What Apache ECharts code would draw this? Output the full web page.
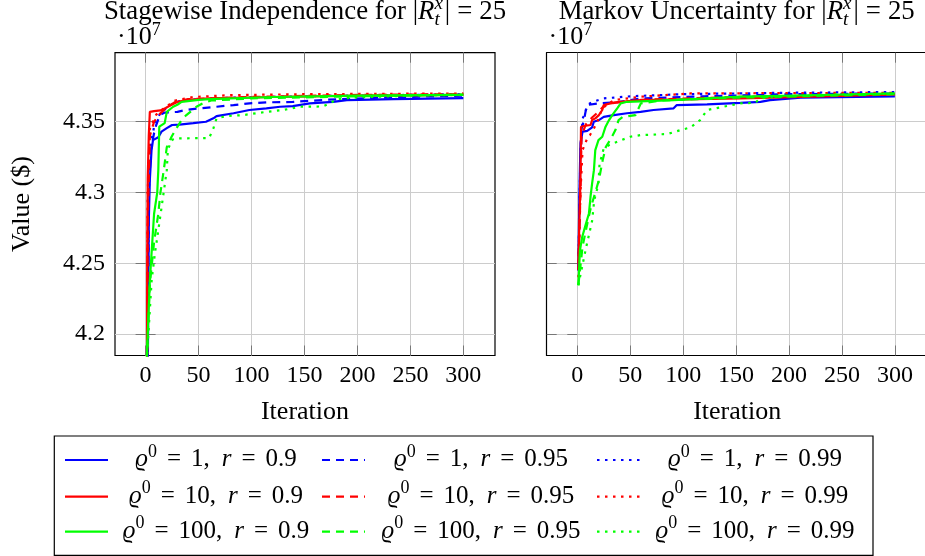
<!DOCTYPE html>
<html><head><meta charset="utf-8">
<script src="https://cdn.jsdelivr.net/npm/echarts@6/dist/echarts.min.js"></script>
<style>html,body{margin:0;padding:0;background:#fff;overflow:hidden}#c{width:945px;height:556px}</style>
</head><body><div id="c"></div>
<script>
// ---------- data (values in units of 10^7 $) ----------
const xTicks = [0, 50, 100, 150, 200, 250, 300];
const yTicks = [4.2, 4.25, 4.3, 4.35];
const rhoValues = ['1', '10', '100'];
const rValues = ['0.9', '0.95', '0.99'];
const titleLeftText = 'Stagewise Independence for ';
const titleRightText = 'Markov Uncertainty for ';
const xName = 'Iteration';
const yName = 'Value ($)';

// Stagewise independence
const si_rho1_r90 = [[1,4.05],[3,4.28],[4,4.309],[5.6,4.33],[7,4.337],[12,4.339],[15,4.343],[20,4.3455],[25,4.3477],[32,4.348],[45,4.349],[57,4.35],[64,4.3524],[67,4.354],[83,4.356],[98,4.3583],[114,4.3595],[127,4.3606],[139,4.3611],[155,4.363],[177,4.3641],[190,4.3653],[234,4.366],[300,4.3667]];
const si_rho1_r95 = [[1,4.05],[3,4.30],[5,4.33],[8,4.342],[10,4.3477],[13.5,4.3547],[18,4.3565],[30,4.357],[38,4.3583],[51,4.3595],[67,4.3606],[83,4.3618],[98,4.363],[114,4.3637],[139,4.364],[170,4.3655],[220,4.367],[300,4.3685]];
const si_rho1_r99 = [[1,4.05],[3,4.30],[5,4.335],[9,4.35],[14,4.356],[20,4.36],[28,4.364],[40,4.3655],[80,4.367],[150,4.368],[300,4.3695]];
const si_rho10_r90 = [[1,4.05],[1.5,4.25],[2,4.31],[3,4.34],[4,4.357],[8,4.3575],[14,4.358],[19,4.3597],[24,4.3618],[30,4.364],[40,4.3655],[60,4.3665],[120,4.3675],[200,4.3685],[300,4.369]];
const si_rho10_r95 = [[1,4.05],[2,4.28],[4,4.34],[8,4.35],[14,4.356],[20,4.36],[28,4.364],[40,4.366],[100,4.3675],[200,4.369],[300,4.3695]];
const si_rho10_r99 = [[1,4.05],[2,4.30],[4,4.345],[10,4.355],[18,4.36],[28,4.365],[45,4.3675],[80,4.3688],[150,4.3695],[300,4.370]];
const si_rho100_r90 = [[1,4.18],[4,4.238],[8,4.285],[9,4.29],[11,4.30],[12,4.316],[12.9,4.3465],[18,4.349],[20,4.357],[26,4.3606],[30,4.362],[34,4.364],[50,4.3655],[60,4.366],[120,4.3675],[200,4.3685],[300,4.369]];
const si_rho100_r95 = [[1,4.18],[4,4.235],[8,4.265],[12,4.285],[14,4.30],[17,4.315],[20,4.332],[24.5,4.3394],[29,4.3453],[34,4.3512],[38.5,4.3547],[48,4.3606],[54,4.363],[62,4.365],[100,4.3665],[200,4.368],[300,4.3692]];
const si_rho100_r99 = [[1,4.18],[5.7,4.238],[8.8,4.257],[12,4.2734],[16,4.2945],[20,4.3158],[21,4.33],[24.5,4.337],[28,4.3382],[60,4.3385],[64,4.3453],[67,4.3524],[76,4.354],[92,4.3547],[114,4.357],[130,4.3583],[146,4.3606],[167,4.3608],[174,4.363],[180,4.3658],[193,4.367],[250,4.3685],[300,4.369]];

// Markov uncertainty
const mu_rho1_r90 = [[1,4.245],[2,4.30],[3,4.335],[5,4.343],[9.4,4.3436],[14,4.346],[15.6,4.35],[20.4,4.3512],[25,4.3535],[34.5,4.3547],[47,4.356],[59.7,4.357],[72,4.3583],[91,4.3595],[94,4.3618],[122.6,4.3623],[154,4.3634],[173,4.3641],[182,4.3653],[211,4.367],[300,4.368]];
const mu_rho1_r95 = [[1,4.245],[3,4.32],[4,4.345],[6,4.35],[9,4.3618],[20,4.363],[40,4.364],[60,4.3665],[120,4.368],[200,4.3695],[300,4.370]];
const mu_rho1_r99 = [[1,4.245],[3,4.33],[5,4.352],[10,4.362],[14,4.364],[25,4.3665],[50,4.368],[100,4.3695],[200,4.3705],[300,4.371]];
const mu_rho10_r90 = [[1,4.25],[2,4.28],[3,4.31],[3.5,4.3465],[6.3,4.347],[12.5,4.3477],[14,4.3512],[17,4.3524],[20.4,4.3547],[23.6,4.3583],[25,4.3618],[31.4,4.363],[41,4.3641],[60,4.3653],[154,4.3665],[250,4.3682],[300,4.3694]];
const mu_rho10_r95 = [[1,4.245],[3,4.30],[4,4.34],[8,4.348],[14,4.353],[20,4.357],[26,4.3618],[35,4.3635],[60,4.3655],[150,4.3675],[300,4.3695]];
const mu_rho10_r99 = [[1,4.24],[3,4.30],[5,4.33],[10,4.3394],[12,4.3406],[15.7,4.3453],[19,4.35],[23.6,4.3595],[34.5,4.3653],[60,4.3677],[107,4.370],[300,4.3705]];
const mu_rho100_r90 = [[1,4.2345],[2.5,4.2592],[4.7,4.2687],[7.8,4.277],[11,4.2852],[12.5,4.297],[14,4.3064],[15.7,4.3158],[17,4.33],[20,4.337],[23.6,4.3394],[26.7,4.3465],[30,4.3512],[33,4.3547],[37.7,4.3595],[41,4.363],[47,4.3641],[91,4.3653],[154,4.3677],[230,4.3689],[300,4.370]];
const mu_rho100_r95 = [[1,4.2345],[5,4.262],[10,4.28],[13,4.29],[17,4.30],[20.4,4.3088],[24,4.3229],[27,4.3323],[31,4.337],[36,4.3441],[39,4.3512],[43,4.3535],[55,4.3547],[60,4.363],[80,4.365],[150,4.367],[300,4.3695]];
const mu_rho100_r99 = [[1,4.2345],[8,4.26],[14,4.28],[16,4.2945],[20,4.306],[21,4.32],[25,4.3312],[30,4.3335],[37.7,4.3359],[50,4.3394],[60,4.3406],[85,4.3413],[97.5,4.3441],[107,4.346],[116,4.3512],[122.6,4.3583],[138,4.3606],[154,4.363],[168,4.3634],[173,4.3665],[188,4.3675],[230,4.369],[300,4.3698]];

const siData = [si_rho1_r90, si_rho1_r95, si_rho1_r99, si_rho10_r90, si_rho10_r95, si_rho10_r99, si_rho100_r90, si_rho100_r95, si_rho100_r99];
const muData = [mu_rho1_r90, mu_rho1_r95, mu_rho1_r99, mu_rho10_r90, mu_rho10_r95, mu_rho10_r99, mu_rho100_r90, mu_rho100_r95, mu_rho100_r99];

// ---------- styles ----------
const SERIF = '"Liberation Serif", "DejaVu Serif", serif';
const FS = 24;            // tick numbers
const FT = 26.8;          // titles
const FN = 26;            // axis names
const FL = 25;            // legend
const COLORS = ['#0000ff', '#ff0000', '#00ff00'];
const DASHES = ['solid', [8, 6], [2.5, 5.5]];
const LW = 2.2;
const X_MIN = -28.9, X_MAX_L = 329.9, X_MAX_R = 331, Y_MIN = 4.1848, Y_MAX = 4.3988;
const GRIDS = [
  {left: 115, top: 52.7, width: 380, height: 302.8},
  {left: 546.7, top: 52.7, width: 381, height: 302.8}
];
const BORDER = {show: true, onZero: false, lineStyle: {color: '#000', width: 1.2}};

// ---------- math text helper ----------
const mctx = document.createElement('canvas').getContext('2d');
function tw(t, s, it) { mctx.font = (it ? 'italic ' : '') + s + 'px ' + SERIF; return mctx.measureText(t).width; }
function mathText(tokens, ax, baseline, anchor, base) {
  let cur = 0, prevStart = 0, prevW = 0; const placed = [];
  tokens.forEach(tk => {
    if (tk.g !== undefined) { cur += tk.g; return; }
    const s = tk.s || base, w = tw(tk.t, s, tk.i);
    let x0;
    if (tk.stack) { x0 = prevStart; cur = prevStart + Math.max(prevW, w); }
    else { x0 = cur; cur += w; prevStart = x0; prevW = w; }
    placed.push({tk, s, x0});
  });
  const left = anchor === 'center' ? ax - cur / 2 : ax;
  return placed.map(p => ({
    type: 'text', silent: true, z: 100,
    style: {
      text: p.tk.t, x: left + p.x0, y: baseline + (p.tk.dy || 0) - 0.34 * p.s,
      fontSize: p.s, fontFamily: SERIF, fontStyle: p.tk.i ? 'italic' : 'normal',
      fill: '#000', align: 'left', verticalAlign: 'middle', textAlign: 'left', textVerticalAlign: 'middle'
    }
  }));
}
function titleTokens(prefix) {
  return [{t: prefix + '|'}, {t: 'R', i: 1}, {t: 'x', i: 1, s: 19, dy: -11}, {t: 't', i: 1, s: 19, dy: 5, stack: 1}, {g: 2}, {t: '|'}, {g: 7}, {t: '='}, {g: 7}, {t: '25'}];
}
const expTokens = [{t: '\u00B710'}, {t: '7', s: 18, dy: -10}];

// ---------- legend ----------
const legendBox = {x: 54.3, y: 436, w: 818.7, h: 119.3};
const legendRowsY = [460, 496.7, 531.7];
const legendSampleX = [[65, 108], [322, 365], [597, 640]];
const legendTextCX = [216, 481, 755];
const graphics = [];
graphics.push({type: 'rect', silent: true, shape: {x: legendBox.x, y: legendBox.y, width: legendBox.w, height: legendBox.h}, style: {fill: '#fff', stroke: '#000', lineWidth: 1.2}});
const GA = 10, GB = 12;
rhoValues.forEach((rho, ri) => {
  rValues.forEach((r, ci) => {
    const y = legendRowsY[ri];
    const d = DASHES[ci];
    graphics.push({type: 'line', silent: true, z: 100, shape: {x1: legendSampleX[ci][0], y1: y, x2: legendSampleX[ci][1], y2: y},
      style: {stroke: COLORS[ri], lineWidth: LW, lineDash: d === 'solid' ? null : d}});
    mathText([{t: '\u03F1', i: 1}, {t: '0', s: 18, dy: -10}, {g: GA}, {t: '='}, {g: GA}, {t: rho + ','}, {g: GB}, {t: 'r', i: 1}, {g: GA}, {t: '='}, {g: GA}, {t: r}],
      legendTextCX[ci], y + 8, 'center', FL).forEach(g => graphics.push(g));
  });
});
mathText(titleTokens(titleLeftText), 305, 21, 'center', FT).forEach(g => graphics.push(g));
mathText(titleTokens(titleRightText), 736.7, 21, 'center', FT).forEach(g => graphics.push(g));
mathText(expTokens, 117, 46, 'left', 26).forEach(g => graphics.push(g));
mathText(expTokens, 548.5, 46, 'left', 26).forEach(g => graphics.push(g));

// ---------- axes ----------
const txt = {fontSize: FS, fontFamily: SERIF, color: '#000'};
const ntxt = {fontSize: FN, fontFamily: SERIF, color: '#000'};
const blank = () => '';
function xAxis(gi, pos) {
  const main = pos === 'bottom';
  return {type: 'value', gridIndex: gi, position: pos, min: X_MIN, max: gi === 0 ? X_MAX_L : X_MAX_R,
    axisLine: gi === 1 ? BORDER : {show: false},
    axisTick: {show: true, inside: true, length: 10, customValues: xTicks, lineStyle: {color: '#777', width: 1}},
    axisLabel: main ? {show: true, customValues: xTicks, margin: 8, ...txt} : {show: false, customValues: xTicks},
    splitLine: {show: main, lineStyle: {color: '#cccccc', width: 1}},
    name: main ? xName : '', nameLocation: 'middle', nameGap: 44, nameTextStyle: ntxt};
}
function yAxis(gi, pos, labels) {
  const main = pos === 'left';
  return {type: 'value', gridIndex: gi, position: pos, min: Y_MIN, max: Y_MAX,
    axisLine: (gi === 1 && main) ? BORDER : {show: false},
    axisTick: {show: true, inside: true, length: 10, customValues: yTicks, lineStyle: {color: '#777', width: 1}},
    axisLabel: labels ? {show: true, customValues: yTicks, margin: 10, ...txt}
      : (main ? {show: true, customValues: yTicks, formatter: blank, ...txt} : {show: false, customValues: yTicks}),
    splitLine: {show: main, lineStyle: {color: '#cccccc', width: 1}},
    name: labels ? yName : '', nameLocation: 'middle', nameRotate: 90, nameGap: 80, nameTextStyle: ntxt};
}

const series = [];
[siData, muData].forEach((set, gi) => {
  set.forEach((data, k) => {
    const ri = Math.floor(k / 3), ci = k % 3;
    series.push({
      type: 'line', name: '\u03F1\u2070 = ' + rhoValues[ri] + ', r = ' + rValues[ci],
      xAxisIndex: gi, yAxisIndex: gi, data: data, symbol: 'none', showSymbol: false,
      lineStyle: {color: COLORS[ri], width: LW, type: DASHES[ci]}, itemStyle: {color: COLORS[ri]},
      clip: true, z: 2 + k, animation: false
    });
  });
});

const chart = echarts.init(document.getElementById('c'));
chart.setOption({
  animation: false,
  backgroundColor: '#fff',
  grid: GRIDS.map((g, i) => ({...g, show: i === 0, borderColor: '#000', borderWidth: 1.2, backgroundColor: 'transparent', containLabel: false, outerBoundsMode: 'none'})),
  xAxis: [xAxis(0, 'bottom'), xAxis(1, 'bottom'), xAxis(0, 'top'), xAxis(1, 'top')],
  yAxis: [yAxis(0, 'left', true), yAxis(1, 'left', false), yAxis(0, 'right', false), yAxis(1, 'right', false)],
  series: series,
  graphic: graphics
});
</script></body></html>
